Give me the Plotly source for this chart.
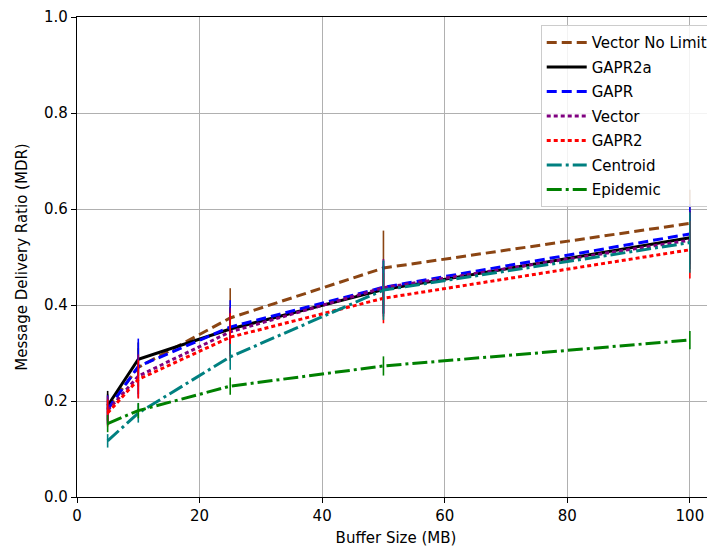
import plotly.graph_objects as go

buffer_mb = [5, 10, 25, 50, 100]

series_names = ["Vector No Limit", "GAPR2a", "GAPR", "Vector", "GAPR2", "Centroid", "Epidemic"]

vector_no_limit = [0.185, 0.27, 0.373, 0.477, 0.570]
gapr2a = [0.190, 0.287, 0.350, 0.432, 0.540]
gapr = [0.182, 0.272, 0.354, 0.437, 0.548]
vector = [0.180, 0.252, 0.344, 0.436, 0.535]
gapr2 = [0.175, 0.245, 0.333, 0.414, 0.515]
centroid = [0.117, 0.175, 0.292, 0.431, 0.530]
epidemic = [0.153, 0.180, 0.231, 0.273, 0.327]

err_vector_no_limit = [0.030, 0.040, 0.062, 0.078, 0.070]
err_gapr2a = [0.031, 0.035, 0.045, 0.050, 0.055]
err_gapr = [0.030, 0.058, 0.056, 0.055, 0.062]
err_vector = [0.030, 0.045, 0.050, 0.060, 0.060]
err_gapr2 = [0.028, 0.040, 0.050, 0.052, 0.060]
err_centroid = [0.014, 0.020, 0.027, 0.062, 0.063]
err_epidemic = [0.018, 0.016, 0.018, 0.020, 0.019]

values = [vector_no_limit, gapr2a, gapr, vector, gapr2, centroid, epidemic]
errors = [err_vector_no_limit, err_gapr2a, err_gapr, err_vector, err_gapr2, err_centroid, err_epidemic]
colors = ["#8B4513", "#000000", "#0000FF", "#800080", "#FF0000", "#008080", "#008000"]
dashes = ["10px,5px", "solid", "10px,5px", "4px,3px", "4px,3px", "15px,4px,3px,4px", "15px,4px,3px,4px"]

fig = go.Figure()
for i, (name, ys, es, c, d) in enumerate(zip(series_names, values, errors, colors, dashes)):
    fig.add_trace(go.Scatter(
        x=buffer_mb, y=ys, name=name, mode="lines",
        line=dict(color=c, width=3, dash=d),
        error_y=dict(type="data", array=es, visible=True, color=c, thickness=1.6, width=0),
        legendgroup=f"g{i}",
    ))

font_family = "DejaVu Sans"
# the page body has an 8px default margin, so the figure is sized to fill the rest of the window
fig.update_layout(
    width=707, height=548,
    margin=dict(l=69, r=0, t=9, b=59),
    plot_bgcolor="white", paper_bgcolor="white",
    font=dict(family=font_family, size=15, color="black"),
    showlegend=True,
    legend=dict(
        x=0.998, y=0.983, xanchor="right", yanchor="top",
        bgcolor="rgba(255,255,255,0.85)", bordercolor="#cccccc", borderwidth=1,
        font=dict(family=font_family, size=15, color="black"),
        traceorder="grouped", tracegroupgap=2,
        itemwidth=40,
    ),
    xaxis=dict(
        range=[0, 104.1], tickmode="array", tickvals=[0, 20, 40, 60, 80, 100],
        showgrid=True, gridcolor="#b0b0b0", gridwidth=1,
        showline=True, linecolor="black", linewidth=1.2, mirror=True,
        ticks="outside", ticklen=5, tickcolor="black",
        zeroline=False, automargin=False,
        title=dict(text="Buffer Size (MB)", font=dict(size=15), standoff=8),
        tickfont=dict(size=15),
    ),
    yaxis=dict(
        range=[0, 1.0], tickmode="array", tickvals=[0, 0.2, 0.4, 0.6, 0.8, 1.0],
        tickformat=".1f",
        showgrid=True, gridcolor="#b0b0b0", gridwidth=1,
        showline=True, linecolor="black", linewidth=1.2, mirror=False,
        ticks="outside", ticklen=5, tickcolor="black",
        zeroline=False, automargin=False,
        title=dict(text="Message Delivery Ratio (MDR)", font=dict(size=15), standoff=12),
        tickfont=dict(size=15),
    ),
)

fig.write_html("out.html")
